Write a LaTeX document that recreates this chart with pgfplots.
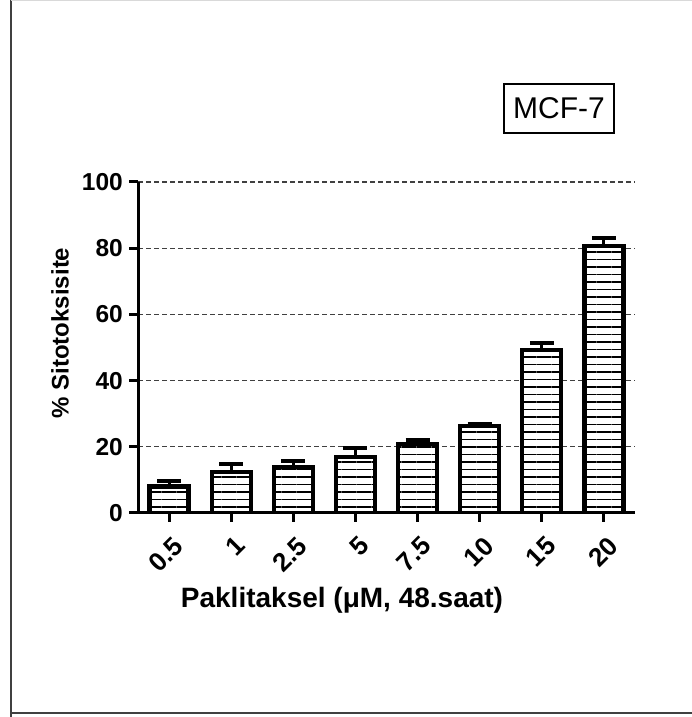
\documentclass[border=0pt]{standalone}
\usepackage{pgfplots}
\pgfplotsset{compat=1.18}
\usepackage{fontspec}
\setmainfont{Liberation Sans}
\usetikzlibrary{patterns.meta}
\begin{document}
\begin{tikzpicture}[x=1pt,y=1pt]
\useasboundingbox (0,0) rectangle (692,717);
% outer frame
\draw[line width=2pt, black!75] (11,0) -- (11,717);
\draw[line width=2pt, black!75] (11,4) -- (692,4);
\draw[line width=1pt, black!15] (11,716.5) -- (692,716.5);
\begin{axis}[
  at={(138pt,204pt)}, anchor=south west,
  scale only axis, width=497pt, height=331pt,
  xmin=-0.5, xmax=7.5, ymin=0, ymax=100,
  enlargelimits=false,
  axis x line*=bottom, axis y line*=left,
  axis line style={line width=3pt, -},
  xtick=data,
  xticklabels={0.5,1,2.5,5,7.5,10,15,20},
  ytick={0,20,40,60,80,100},
  tick align=outside,
  major tick length=9pt,
  tick style={line width=3pt, black},
  /pgf/number format/assume math mode=true,
  yticklabel style={font=\fontsize{24.5}{24.5}\selectfont\bfseries, inner sep=2pt, xshift=-4pt},
  xticklabel style={font=\fontsize{26}{26}\selectfont\bfseries, rotate=45, anchor=north east, inner sep=1pt, xshift=-6pt, yshift=-10pt},
  ymajorgrids,
  major grid style={dash pattern=on 5pt off 3pt, line width=1.3pt, black!75},
  ybar, bar width=39pt,
]
\addplot[draw=black, line width=4.2pt, fill=white,
  postaction={pattern={Lines[angle=0,distance=7.5pt,line width=1.4pt]}},
  error bars/.cd, y dir=plus, y explicit,
  error bar style={line width=3pt, black},
  error mark options={rotate=90, line width=4pt, mark size=12pt, black}]
coordinates {
(0,8.0) +- (0,1.6)
(1,12.3) +- (0,2.4)
(2,14.0) +- (0,1.8)
(3,17.0) +- (0,2.7)
(4,20.8) +- (0,1.2)
(5,26.2) +- (0,0.8)
(6,49.2) +- (0,2.2)
(7,80.7) +- (0,2.3)
};
\end{axis}
\node[rotate=90, font=\fontsize{24}{24}\selectfont\bfseries] at (60,384) {\% Sitotoksisite};
\node[font=\fontsize{28}{28}\selectfont\bfseries] at (342,117) {Paklitaksel (μM, 48.saat)};
\node[draw=black, line width=1.3pt, minimum width=110pt, minimum height=49pt, inner sep=0pt, font=\fontsize{30}{30}\selectfont] at (559,608.5) {MCF-7};
\end{tikzpicture}
\end{document}
